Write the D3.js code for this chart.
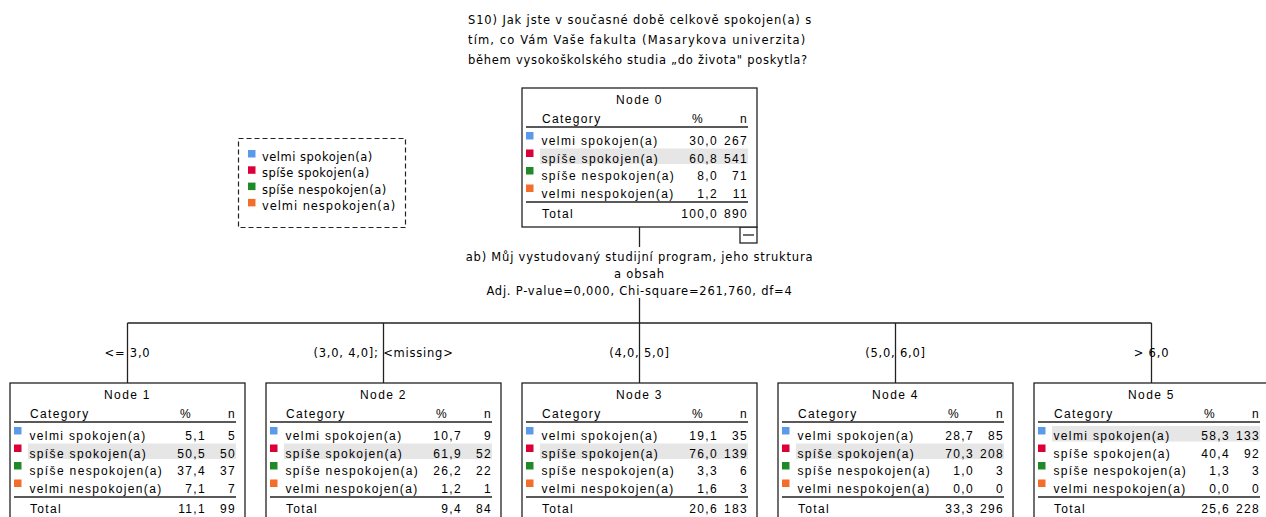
<!DOCTYPE html>
<html>
<head>
<meta charset="utf-8">
<script src="https://cdn.jsdelivr.net/npm/d3@7/dist/d3.min.js"></script>
<style>
  html, body { margin: 0; padding: 0; background: #fff; }
  svg { display: block; }
  .tbl { font-family: "Liberation Sans", Arial, sans-serif; font-size: 12px; letter-spacing: 1.35px; fill: #000; }
  .lbl { font-family: "DejaVu Sans", sans-serif; font-size: 11.5px; letter-spacing: 0.78px; fill: #000; }
</style>
</head>
<body>
<script>
// ---- data ----
const titleLines = [
  "S10) Jak jste v současné době celkově spokojen(a) s",
  "tím, co Vám Vaše fakulta (Masarykova univerzita)",
  "během vysokoškolského studia „do života\" poskytla?"
];
const categories = ["velmi spokojen(a)", "spíše spokojen(a)", "spíše nespokojen(a)", "velmi nespokojen(a)"];
const categoryColors = ["#5a9be9", "#dc0039", "#208a29", "#f36e2d"];
const nodeNames = ["Node 0", "Node 1", "Node 2", "Node 3", "Node 4", "Node 5"];
const nodePct = [
  [30.0, 60.8, 8.0, 1.2],
  [5.1, 50.5, 37.4, 7.1],
  [10.7, 61.9, 26.2, 1.2],
  [19.1, 76.0, 3.3, 1.6],
  [28.7, 70.3, 1.0, 0.0],
  [58.3, 40.4, 1.3, 0.0]
];
const nodeN = [
  [267, 541, 71, 11],
  [5, 50, 37, 7],
  [9, 52, 22, 1],
  [35, 139, 6, 3],
  [85, 208, 3, 0],
  [133, 92, 3, 0]
];
const totalPct = [100.0, 11.1, 9.4, 20.6, 33.3, 25.6];
const totalN = [890, 99, 84, 183, 296, 228];
const splitLines = [
  "ab) Můj vystudovaný studijní program, jeho struktura",
  "a obsah",
  "Adj. P-value=0,000, Chi-square=261,760, df=4"
];
const branchLabels = ["<= 3,0", "(3,0, 4,0];  <missing>", "(4,0, 5,0]", "(5,0, 6,0]", "> 6,0"];

// ---- drawing ----
const W = 1266, H = 517;
const svg = d3.select("body").append("svg").attr("width", W).attr("height", H);
const fmt = v => d3.format(".1f")(v).replace(".", ",");

const boxW = 235, boxH = 139;
const childX = d3.scalePoint().domain([1, 2, 3, 4, 5]).range([127.5, 1151.5]);
const rootX = 639.5;
const rootTop = 88, childTop = 383;
const hLineY = 323;

// title
svg.append("g").selectAll("text").data(titleLines).join("text")
  .attr("class", "lbl")
  .attr("x", 468).attr("y", (d, i) => 24 + i * 20)
  .attr("textLength", (d, i) => [344, 338, 340][i])
  .attr("lengthAdjust", "spacing")
  .text(d => d);

// legend
const lg = svg.append("g");
lg.append("rect").attr("x", 238.5).attr("y", 138.5).attr("width", 167).attr("height", 89)
  .attr("fill", "none").attr("stroke", "#222").attr("stroke-width", 1.2).attr("stroke-dasharray", "5,3");
const li = lg.selectAll("g").data(categories).join("g")
  .attr("transform", (d, i) => `translate(248, ${157 + i * 16.3})`);
li.append("rect").attr("x", 0).attr("y", -7).attr("width", 7.5).attr("height", 7.5)
  .attr("fill", (d, i) => categoryColors[i]);
li.append("text").attr("class", "lbl").attr("x", 14).attr("y", 4)
  .attr("textLength", d => ({"velmi spokojen(a)":111,"spíše spokojen(a)":108,"spíše nespokojen(a)":125,"velmi nespokojen(a)":134})[d])
  .attr("lengthAdjust", "spacing")
  .text(d => d);

// connectors
const conn = svg.append("g").attr("stroke", "#222").attr("stroke-width", 1.3).attr("fill", "none");
conn.append("line").attr("x1", rootX).attr("x2", rootX).attr("y1", rootTop + boxH).attr("y2", 247);
conn.append("line").attr("x1", rootX).attr("x2", rootX).attr("y1", 298).attr("y2", hLineY);
conn.append("line").attr("x1", childX(1)).attr("x2", childX(5)).attr("y1", hLineY).attr("y2", hLineY);
conn.selectAll(".cv").data([1, 2, 3, 4, 5]).join("line")
  .attr("x1", d => childX(d)).attr("x2", d => childX(d))
  .attr("y1", hLineY).attr("y2", childTop);

// collapse box
const cb = svg.append("g");
cb.append("rect").attr("x", rootX + boxW / 2 - 17).attr("y", rootTop + boxH).attr("width", 17).attr("height", 16)
  .attr("fill", "#fff").attr("stroke", "#222").attr("stroke-width", 1.3);
cb.append("line").attr("x1", rootX + boxW / 2 - 14).attr("x2", rootX + boxW / 2 - 3)
  .attr("y1", rootTop + boxH + 8).attr("y2", rootTop + boxH + 8).attr("stroke", "#222").attr("stroke-width", 1.3);

// split text
svg.append("g").selectAll("text").data(splitLines).join("text")
  .attr("class", "lbl")
  .attr("x", rootX).attr("y", (d, i) => 261 + i * 17)
  .attr("text-anchor", "middle")
  .text(d => d);

// branch labels
svg.append("g").selectAll("text").data(branchLabels).join("text")
  .attr("class", "lbl")
  .attr("x", (d, i) => childX(i + 1)).attr("y", 357)
  .attr("text-anchor", "middle")
  .text(d => d);

// nodes
function drawNode(idx, cx, top) {
  const left = cx - boxW / 2, right = cx + boxW / 2;
  const g = svg.append("g");
  g.append("rect").attr("x", left).attr("y", top).attr("width", boxW).attr("height", boxH)
    .attr("fill", "#fff").attr("stroke", "#222").attr("stroke-width", 1.3);
  g.append("text").attr("class", "tbl").attr("x", cx).attr("y", top + 16).attr("text-anchor", "middle").text(nodeNames[idx]);
  g.append("text").attr("class", "tbl").attr("x", left + 20).attr("y", top + 35).text("Category");
  g.append("text").attr("class", "tbl").attr("x", left + 176).attr("y", top + 35).attr("text-anchor", "middle").text("%");
  g.append("text").attr("class", "tbl").attr("x", right - 9).attr("y", top + 35).attr("text-anchor", "end").text("n");
  g.append("line").attr("x1", left + 4).attr("x2", right - 9).attr("y1", top + 39).attr("y2", top + 39)
    .attr("stroke", "#222").attr("stroke-width", 1.6);
  const rowY = i => top + 53 + i * 17.5;
  const maxI = d3.maxIndex(nodeN[idx]);
  g.append("rect").attr("x", left + 18).attr("y", rowY(maxI) - 10).attr("width", boxW - 27).attr("height", 15.5)
    .attr("fill", "#e6e6e6");
  const rows = g.selectAll(".row").data(categories).join("g");
  rows.append("rect").attr("x", left + 4).attr("y", (d, i) => rowY(i) - 9).attr("width", 7.5).attr("height", 7.5)
    .attr("fill", (d, i) => categoryColors[i]);
  rows.append("text").attr("class", "tbl").attr("x", left + 19.5).attr("y", (d, i) => rowY(i) + 4).text(d => d);
  rows.append("text").attr("class", "tbl").attr("x", left + 196).attr("y", (d, i) => rowY(i) + 4)
    .attr("text-anchor", "end").text((d, i) => fmt(nodePct[idx][i]));
  rows.append("text").attr("class", "tbl").attr("x", right - 9).attr("y", (d, i) => rowY(i) + 4)
    .attr("text-anchor", "end").text((d, i) => nodeN[idx][i]);
  g.append("line").attr("x1", left + 4).attr("x2", right - 9).attr("y1", top + 114).attr("y2", top + 114)
    .attr("stroke", "#222").attr("stroke-width", 1.6);
  g.append("text").attr("class", "tbl").attr("x", left + 20).attr("y", top + 130).text("Total");
  g.append("text").attr("class", "tbl").attr("x", left + 196).attr("y", top + 130).attr("text-anchor", "end").text(fmt(totalPct[idx]));
  g.append("text").attr("class", "tbl").attr("x", right - 9).attr("y", top + 130).attr("text-anchor", "end").text(totalN[idx]);
}
drawNode(0, rootX, rootTop);
[1, 2, 3, 4, 5].forEach(k => drawNode(k, childX(k), childTop));
</script>
</body>
</html>
